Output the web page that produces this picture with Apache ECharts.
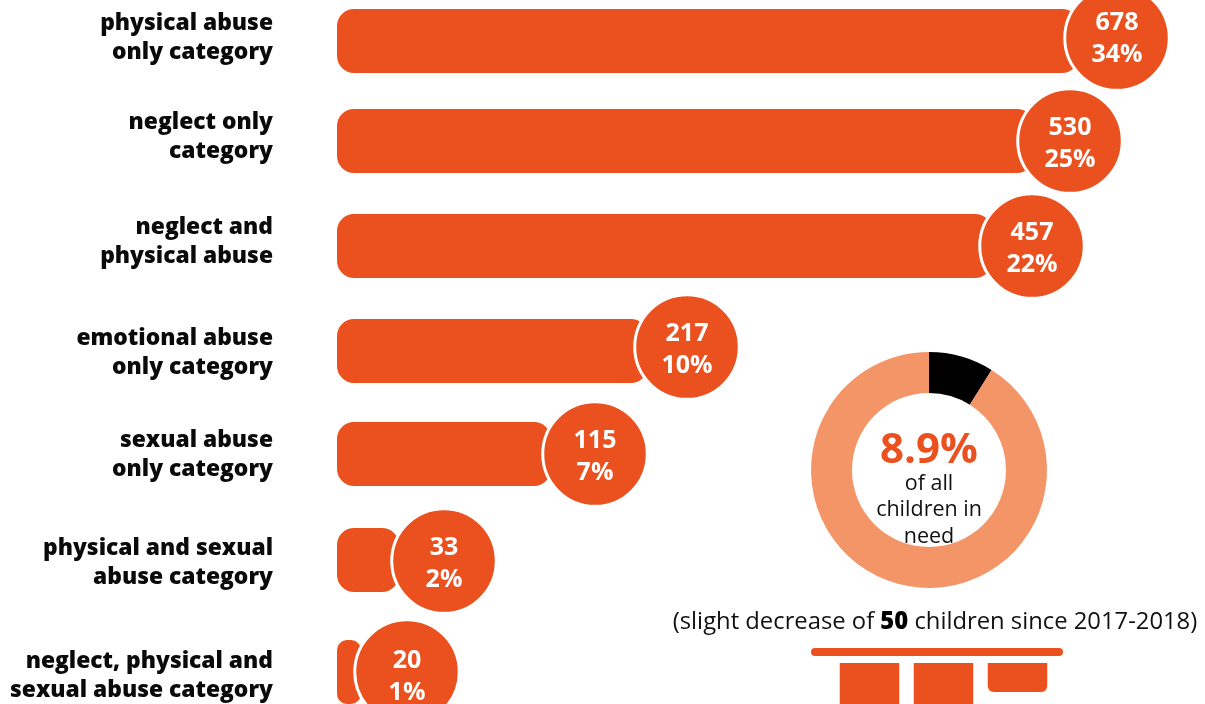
<!DOCTYPE html>
<html><head><meta charset="utf-8">
<style>html,body{margin:0;padding:0;background:#fff;overflow:hidden}#c{width:1205px;height:704px}</style>
<script src="https://cdn.jsdelivr.net/npm/echarts@6/dist/echarts.min.js"></script>
</head><body><div id="c"></div>
<script>
// data
const categories = ['physical abuse\nonly category','neglect only\ncategory','neglect and\nphysical abuse','emotional abuse\nonly category','sexual abuse\nonly category','physical and sexual\nabuse category','neglect, physical and\nsexual abuse category'];
const counts = [678,530,457,217,115,33,20];
const shares = [34,25,22,10,7,2,1];
// the source is an infographic: drawn lengths are not proportional to counts
const drawnLengths = [742,697,655,311,214,62,24];
const badgeAt = [780,733,695,350,258,107,70];
const donutValues = [8.9,91.1];
const miniBars = [60,60,29];
const miniCats = ['a','b','c'];

// layout (pixels)
const barCentres = [41,141,246,351,454,560,672];
const badgeCentres = [38,141,246,347,454,561,672];
const nameCentres = [38,137,242,353,455,563,676];
const badgeTextShift = [1,3,3,3,3,3,5];
const ORANGE = '#EA511F', FONT = '"Open Sans", "Noto Sans", sans-serif';
const grids = [], xAxis = [], yAxis = [], series = [];
function row(centre, h, cat, showLabel) {
  const i = grids.length;
  grids.push({left:337, width:800, top:centre-h/2, height:h, outerBoundsMode:'none', containLabel:false});
  xAxis.push({gridIndex:i, type:'value', min:0, max:800, show:false});
  yAxis.push({gridIndex:i, type:'category', data:[cat],
    axisLine:{show:false}, axisTick:{show:false}, splitLine:{show:false},
    axisLabel:{show:showLabel, margin:64, align:'right', color:'#0a0a0a', fontFamily:FONT, fontWeight:800, fontSize:22.8, lineHeight:29}});
  return i;
}
categories.forEach((c, k) => {
  const a = row(barCentres[k], 64, c, false);
  series.push({type:'bar', xAxisIndex:a, yAxisIndex:a, data:[drawnLengths[k]], barWidth:64,
    itemStyle:{color:ORANGE, borderRadius: k===6 ? 10 : 17}, silent:true, z:2});
  const n = row(nameCentres[k], 60, c, true);
  series.push({type:'bar', xAxisIndex:n, yAxisIndex:n, data:[0], barWidth:1, itemStyle:{color:'transparent'}, silent:true});
  const b = row(badgeCentres[k], 106, c, false);
  series.push({type:'scatter', xAxisIndex:b, yAxisIndex:b, data:[[badgeAt[k], c]], symbolSize:104.5, clip:false, silent:true, z:5,
    itemStyle:{color:ORANGE, borderColor:'#fff', borderWidth:3, opacity:1},
    label:{show:true, position:'inside', offset:[0,badgeTextShift[k]], formatter:counts[k]+'\n'+shares[k]+'%', color:'#fff', fontFamily:FONT, fontWeight:700, fontSize:25, lineHeight:32}});
});
// mini columns bottom right
const m = grids.length;
grids.push({left:832.5, width:222, top:663, height:60, outerBoundsMode:'none', containLabel:false});
xAxis.push({gridIndex:m, type:'category', data:miniCats, show:false});
yAxis.push({gridIndex:m, type:'value', inverse:true, min:0, max:60, show:false});
series.push({type:'bar', xAxisIndex:m, yAxisIndex:m, data:miniBars.map((v,i)=>({value:v, itemStyle:{borderRadius:i===2?[0,0,6,6]:0}})), barWidth:59.5, itemStyle:{color:ORANGE}, silent:true});
// donut
series.push({type:'pie', center:[929,470], radius:[77,118], startAngle:90, clockwise:true, silent:true, label:{show:false}, labelLine:{show:false},
  data:[{value:donutValues[0], itemStyle:{color:'#000'}},{value:donutValues[1], itemStyle:{color:'#F49568'}}]});

const chart = echarts.init(document.getElementById('c'), null, {renderer:'canvas'});
chart.setOption({
  animation:false, backgroundColor:'#fff', grid:grids, xAxis, yAxis, series,
  title:[
    {text:'8.9%', left:929, top:451, padding:0, textAlign:'center', textVerticalAlign:'middle', textStyle:{color:ORANGE, fontFamily:FONT, fontWeight:700, fontSize:42}},
    {text:'of all\nchildren in\nneed', left:929, top:510, padding:0, textAlign:'center', textVerticalAlign:'middle', textStyle:{color:'#111', fontFamily:FONT, fontWeight:400, fontSize:21.5, lineHeight:26.5}},
    {text:'(slight decrease of {b|50} children since 2017-2018)', left:935, top:622, padding:0, textAlign:'center', textVerticalAlign:'middle',
     textStyle:{color:'#111', fontFamily:FONT, fontWeight:400, fontSize:23.8, rich:{b:{fontFamily:FONT, fontWeight:800, fontSize:23.8, color:'#000'}}}}
  ],
  graphic:[{type:'rect', shape:{x:811,y:648,width:252,height:8,r:4}, style:{fill:ORANGE}, silent:true}]
});
</script></body></html>
